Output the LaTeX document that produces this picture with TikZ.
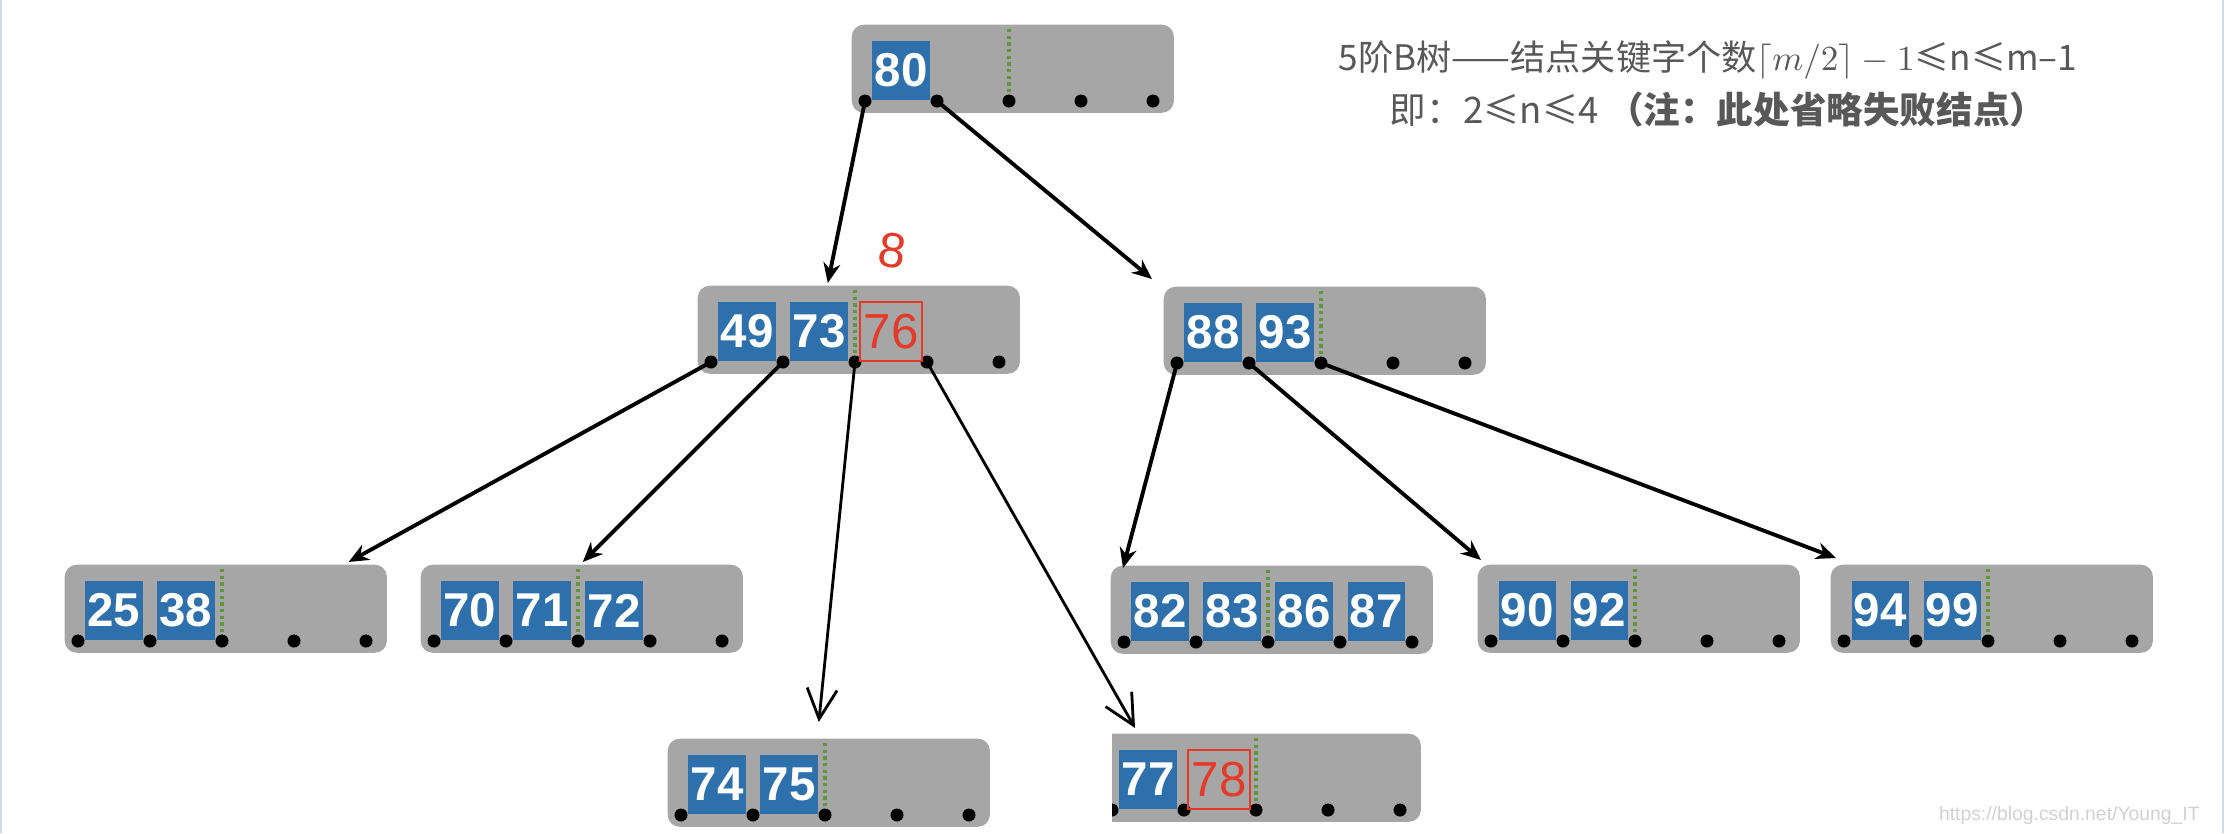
\documentclass[tikz,border=0pt]{standalone}
\usepackage{amsmath,amssymb}
\usepackage{fontspec}
\setsansfont{Liberation Sans}
\newfontfamily\cjk{Noto Sans CJK SC}
\usetikzlibrary{positioning,calc,arrows.meta}

\definecolor{keyblue}{RGB}{46,112,172}
\definecolor{nodegray}{RGB}{166,166,166}
\definecolor{notegray}{RGB}{88,88,88}
\definecolor{inkred}{RGB}{228,58,40}
\definecolor{divgreen}{RGB}{95,150,60}
\definecolor{rimgray}{RGB}{212,216,224}

% one B-tree node: name, left x, top y (px), keys
\newcommand{\btnode}[4]{%
  \node[bnode, anchor=north west] (#1) at (#2,-#3) {};
  \draw[divider] ($(#1.north west)+(158,-5)$) -- ($(#1.north west)+(158,-77)$);
  \foreach \k [count=\i from 0] in {#4}
    \node[key] (#1-k\i) at ($(#1.north west)+(50+72*\i,-46.5)$) {\k};
  \foreach \i in {0,...,4}
    \fill ($(#1.north west)+(14+72*\i,-77)$) coordinate (#1-p\i) circle (0.065cm);
}

\begin{document}
\begin{tikzpicture}[
        x=0.01cm, y=0.01cm,
        bnode/.style={fill=nodegray, rounded corners=0.12cm, minimum width=3.22cm, minimum height=0.88cm, inner sep=0pt},
        key/.style={fill=keyblue, text=white, font=\sffamily\bfseries\fontsize{13.5}{15}\selectfont, minimum width=0.57cm, minimum height=0.59cm, inner sep=0pt},
        divider/.style={divgreen, densely dotted, line width=0.9pt},
        edge/.style={line width=1.1pt, -{Stealth[length=0.2cm,width=0.17cm]}},
        pen/.style={line width=0.8pt, -{Straight Barb[length=0.3cm,width=0.3cm]}},
        redbox/.style={draw=inkred, line width=0.7pt, text=inkred, font=\sffamily\fontsize{14}{16}\selectfont, minimum width=0.62cm, minimum height=0.59cm, inner sep=0pt},
        note/.style={text=notegray, inner sep=0pt}
      ]
      \useasboundingbox (0,0) rectangle (2224,-833);
      \draw[rimgray, line width=0.6pt] (1,0) -- (1,-833);
      \draw[rimgray, line width=0.6pt] (2223,0) -- (2223,-833);

      % Nodes
      \btnode{root}{851}{24}{80}
      \btnode{l2a}{697}{285}{49,73}
      \btnode{l2b}{1163}{286}{88,93}
      \btnode{l3a}{64}{564}{25,38}
      \btnode{l3b}{420}{564}{70,71,72}
      \btnode{l3c}{1110}{565}{82,83,86,87}
      \btnode{l3d}{1477}{564}{90,92}
      \btnode{l3e}{1830}{564}{94,99}
      \btnode{l4a}{667}{738}{74,75}
      \begin{scope}
        \clip (1112,0) rectangle (2224,-833);
        \btnode{l4b}{1098}{733}{77}
      \end{scope}

      % handwritten marks
      \node[redbox] (n76) at ($(l2a.north west)+(194,-46.5)$) {76};
      \node[redbox] (n78) at ($(l4b.north west)+(121,-46.5)$) {78};
      \node[text=inkred, font=\sffamily\fontsize{14}{16}\selectfont, rotate=-8] (mark) at ($(n76.north)+(1,50)$) {8};

      % Edges
      \draw[edge] (root-p0) -- ($(l2a.north)+(-31,2)$);
      \draw[edge] (root-p1) -- ($(l2b.north west)+(-11,7)$);
      \draw[edge] (l2a-p0) -- ($(l3a.north east)+(-39,2)$);
      \draw[edge] (l2a-p1) -- ($(l3b.north)+(1,2)$);
      \draw[edge] (l2b-p0) -- ($(l3c.north west)+(13,-3)$);
      \draw[edge] (l2b-p1) -- ($(l3d.north west)+(4,4)$);
      \draw[edge] (l2b-p2) -- ($(l3e.north west)+(6,6)$);
      \draw[pen] (l2a-p2) -- ($(l4a.north)+(-10,16)$);
      \draw[pen] (l2a-p3) -- ($(l4b.north west)+(37,5)$);

      % Notes
      \node[note, font=\cjk\fontsize{10}{12}\selectfont] (title) at (1708,-60) {5阶B树——结点关键字个数$\lceil m/2\rceil - 1$≤n≤m–1};
      \node[note, font=\cjk\fontsize{10.4}{12}\selectfont] (rule) at (1718,-110) {即：2≤n≤4 {\bfseries （注：此处省略失败结点）}};
      \node[text=black!18, font=\sffamily\fontsize{5.5}{6}\selectfont, anchor=east] (url) at (2212,-815) {https://blog.csdn.net/Young\_IT};
\end{tikzpicture}
\end{document}
